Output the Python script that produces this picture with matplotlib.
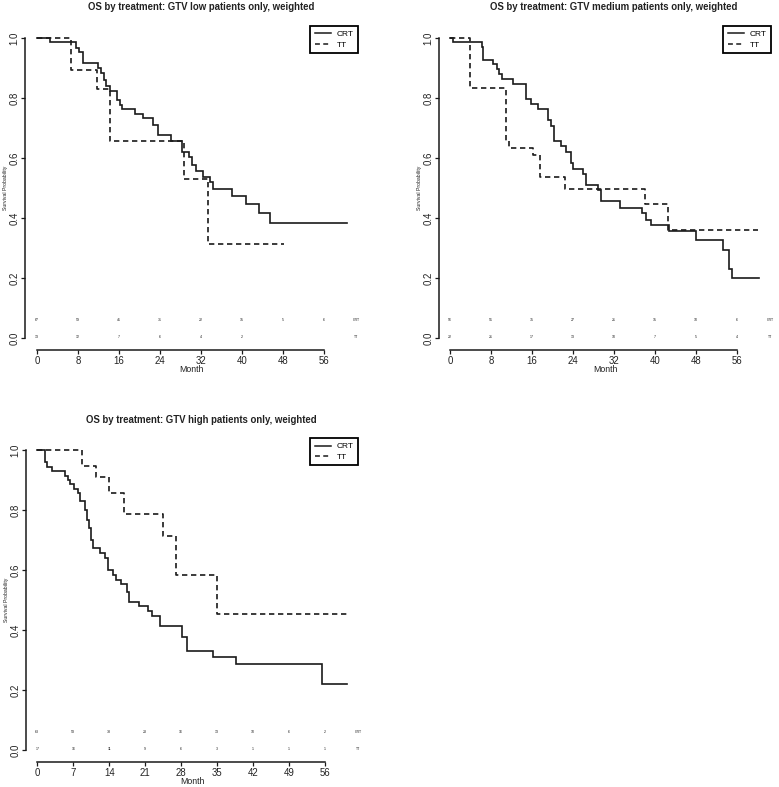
import matplotlib
matplotlib.use("Agg")
import matplotlib.pyplot as plt
from matplotlib.lines import Line2D

plt.rcParams['font.family'] = ['Liberation Sans', 'DejaVu Sans']

# ---------------- data ----------------
titles = ["OS by treatment: GTV low patients only, weighted",
          "OS by treatment: GTV medium patients only, weighted",
          "OS by treatment: GTV high patients only, weighted"]
groups = ["CRT", "TT"]

# Panel 1 (GTV low)
crt1_t = [0, 2.5, 7.6, 8.3, 8.9, 12.0, 12.6, 13.1, 13.5, 14.3, 15.6, 16.2, 16.7, 19.1, 20.8,
          22.6, 23.7, 26.1, 28.3, 29.6, 30.2, 31.1, 32.5, 33.7, 34.3, 38.0, 40.8, 43.4, 45.5, 60.5]
crt1_s = [1.0, 0.988, 0.966, 0.952, 0.916, 0.90, 0.882, 0.86, 0.84, 0.824, 0.793, 0.777, 0.763,
          0.747, 0.732, 0.71, 0.677, 0.658, 0.621, 0.602, 0.577, 0.558, 0.536, 0.519, 0.496,
          0.473, 0.447, 0.416, 0.382, 0.382]
tt1_t = [0, 6.6, 11.8, 14.3, 28.8, 33.5, 48.3]
tt1_s = [1.0, 0.893, 0.829, 0.657, 0.529, 0.312, 0.312]
ticks1 = [0, 8, 16, 24, 32, 40, 48, 56]
risk_crt1 = ["67", "59", "41", "31", "22", "15", "5", "6"]
risk_tt1 = ["13", "12", "7", "6", "4", "2", "", ""]

# Panel 2 (GTV medium)
crt2_t = [0, 0.65, 6.2, 6.5, 8.3, 9.1, 9.6, 10.1, 12.2, 14.8, 15.7, 17.2, 19.2, 19.7, 20.3, 21.6,
          22.7, 23.6, 24.0, 25.9, 26.5, 28.9, 29.4, 33.1, 37.5, 38.3, 39.2, 42.6, 48.0, 53.2,
          54.4, 55.0, 60.3]
crt2_s = [1.0, 0.988, 0.969, 0.927, 0.913, 0.896, 0.879, 0.863, 0.847, 0.797, 0.78, 0.763, 0.727,
          0.708, 0.658, 0.64, 0.621, 0.583, 0.565, 0.548, 0.511, 0.495, 0.456, 0.435, 0.418,
          0.395, 0.376, 0.356, 0.326, 0.295, 0.231, 0.2, 0.2]
tt2_t = [0, 3.9, 10.9, 11.6, 16.2, 17.5, 22.5, 38.1, 42.4, 60.1]
tt2_s = [1.0, 0.834, 0.658, 0.632, 0.61, 0.538, 0.498, 0.448, 0.359, 0.359]
ticks2 = [0, 8, 16, 24, 32, 40, 48, 56]
risk_crt2 = ["56", "51", "35", "27", "21", "15", "10", "6"]
risk_tt2 = ["22", "21", "17", "13", "10", "7", "5", "4"]

# Panel 3 (GTV high)
crt3_t = [0, 1.4, 1.85, 2.8, 5.3, 5.9, 6.4, 7.1, 7.9, 8.3, 9.3, 9.6, 10.0, 10.4, 10.8, 12.2, 13.2,
          13.7, 14.8, 15.4, 16.3, 17.4, 17.9, 19.7, 21.6, 22.3, 23.8, 28.1, 29.2, 34.1, 38.7,
          55.4, 60.2]
crt3_s = [1.0, 0.961, 0.942, 0.93, 0.914, 0.9, 0.886, 0.869, 0.856, 0.831, 0.8, 0.767, 0.739, 0.7,
          0.672, 0.656, 0.639, 0.6, 0.583, 0.567, 0.553, 0.526, 0.494, 0.48, 0.463, 0.447,
          0.413, 0.378, 0.33, 0.309, 0.287, 0.219, 0.219]
tt3_t = [0, 8.6, 11.4, 14.0, 16.9, 24.4, 27.0, 34.9, 60.2]
tt3_s = [1.0, 0.948, 0.911, 0.858, 0.786, 0.714, 0.583, 0.453, 0.453]
ticks3 = [0, 7, 14, 21, 28, 35, 42, 49, 56]
risk_crt3 = ["63", "53", "33", "23", "16", "13", "10", "6", "2"]
risk_tt3 = ["17", "16", "11", "9", "6", "3", "1", "1", "1"]

yticks = [0.0, 0.2, 0.4, 0.6, 0.8, 1.0]

# ---------------- layout ----------------
W, H = 779, 787
fig = plt.figure(figsize=(W / 100, H / 100), dpi=100)
fig.patch.set_facecolor("white")

def add_axes(L, R, T, B):
    return fig.add_axes([L / W, 1 - B / H, (R - L) / W, (B - T) / H])

panels = [
    dict(box=(25, 358, 26, 350), xlim=(-2.34, 62.7), title_xy=(201, 7),
         crt=(crt1_t, crt1_s), tt=(tt1_t, tt1_s), ticks=ticks1,
         rc=risk_crt1, rt=risk_tt1, title=titles[0]),
    dict(box=(439, 771, 26, 350), xlim=(-2.14, 62.57), title_xy=(614, 7),
         crt=(crt2_t, crt2_s), tt=(tt2_t, tt2_s), ticks=ticks2,
         rc=risk_crt2, rt=risk_tt2, title=titles[1]),
    dict(box=(26, 358, 438, 762), xlim=(-2.2, 62.4), title_xy=(201, 420),
         crt=(crt3_t, crt3_s), tt=(tt3_t, tt3_s), ticks=ticks3,
         rc=risk_crt3, rt=risk_tt3, title=titles[2]),
]

line_col = "#1a1a1a"
for p in panels:
    ax = add_axes(*p["box"])
    ax.set_xlim(*p["xlim"])
    ax.set_ylim(-0.04, 1.04)
    ax.step(p["crt"][0], p["crt"][1], where="post", color=line_col, lw=1.2, solid_joinstyle="miter")
    ax.step(p["tt"][0], p["tt"][1], where="post", color=line_col, lw=1.2,
            linestyle=(0, (3.2, 2.2)))
    for sp in ["top", "right"]:
        ax.spines[sp].set_visible(False)
    ax.spines["left"].set_bounds(0, 1)
    ax.spines["bottom"].set_bounds(p["ticks"][0], p["ticks"][-1])
    for sp in ["left", "bottom"]:
        ax.spines[sp].set_linewidth(1.1)
        ax.spines[sp].set_color(line_col)
    ax.set_xticks(p["ticks"])
    ax.set_yticks(yticks)
    ax.set_yticklabels([f"{v:.1f}" for v in yticks], rotation=90, va="center")
    ax.tick_params(axis="both", direction="out", length=3, width=0.9, color=line_col,
                   labelsize=6.9, labelcolor="#222222", pad=1.2)
    ax.set_xlabel("Month", fontsize=6.3, color="#222222", labelpad=-0.5)
    ax.set_ylabel("Survival Probability", fontsize=3.7, color="#222222", labelpad=0.5)
    # numbers at risk
    for m, a, b in zip(p["ticks"], p["rc"], p["rt"]):
        ax.text(m, 0.06, a, fontsize=2.6, ha="center", va="center", color="#222222")
        ax.text(m, 0.005, b, fontsize=2.6, ha="center", va="center", color="#222222")
    ax.text(62.4, 0.06, groups[0], fontsize=2.6, ha="center", va="center", color="#222222")
    ax.text(62.4, 0.005, groups[1], fontsize=2.6, ha="center", va="center", color="#222222")
    handles = [Line2D([], [], color=line_col, lw=1.1),
               Line2D([], [], color=line_col, lw=1.1, linestyle=(0, (3.2, 2.2)))]
    leg = ax.legend(handles, groups, loc="upper right", borderaxespad=0, fontsize=6.0,
                    frameon=True, fancybox=False, edgecolor="black", framealpha=1,
                    handlelength=2.0, handletextpad=0.6, borderpad=0.55, labelspacing=0.3)
    leg.get_frame().set_linewidth(1.3)
    fig.text(p["title_xy"][0] / W, 1 - p["title_xy"][1] / H, p["title"], fontsize=6.9,
             fontweight="bold", ha="center", va="center", color="#222222")

fig.savefig("out.png", dpi=100, facecolor="white")
